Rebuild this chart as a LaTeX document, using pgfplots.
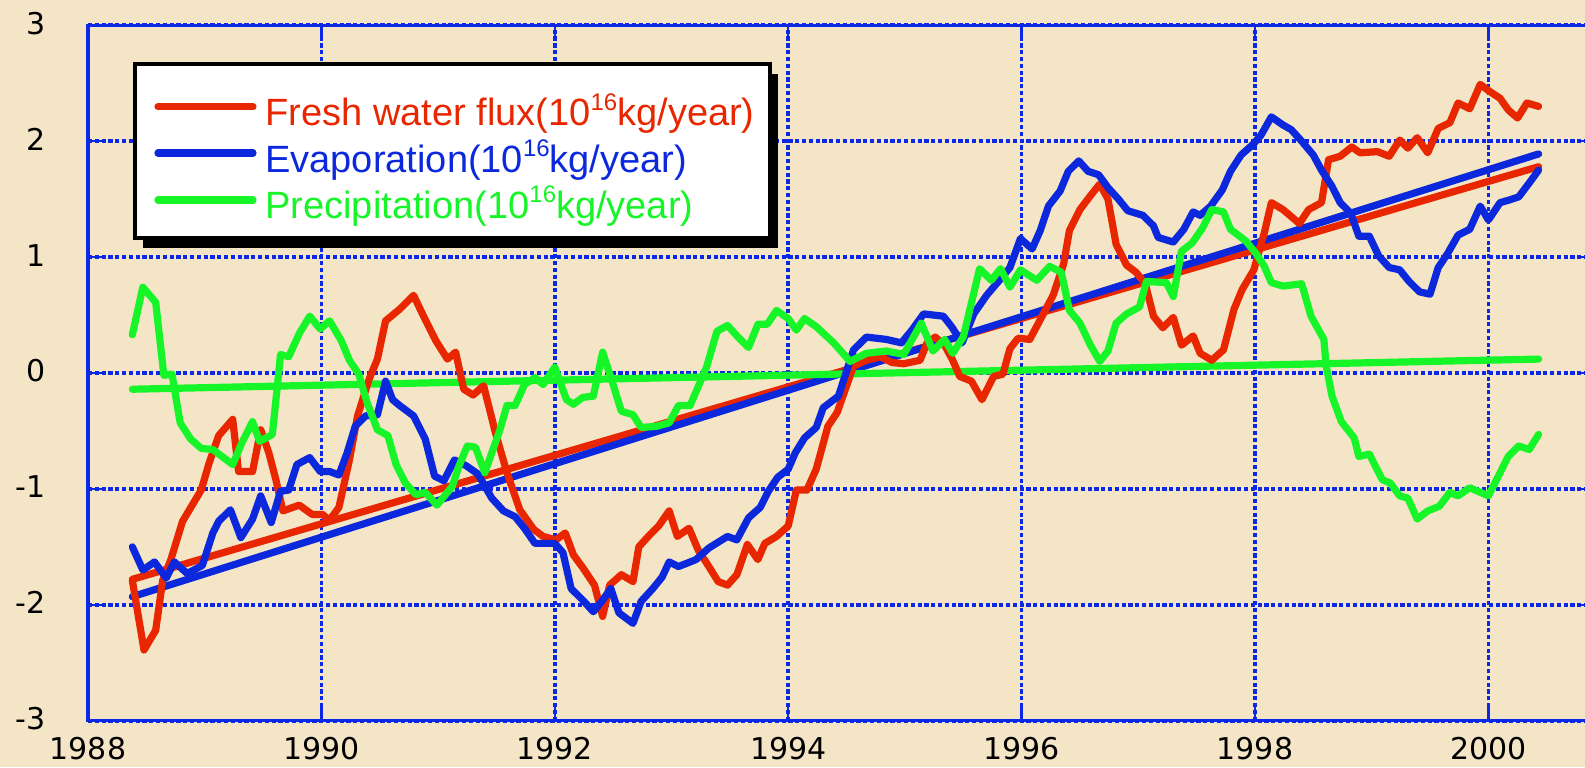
\documentclass[border=0pt]{standalone}
\usepackage{fontspec}
\setmainfont{Liberation Sans}
\newfontfamily\tickfont{DejaVu Sans}
\usepackage{pgfplots}
\pgfplotsset{compat=1.18}
\definecolor{bg}{RGB}{244,229,199}
\definecolor{cred}{RGB}{232,38,0}
\definecolor{cblue}{RGB}{12,40,220}
\definecolor{cgreen}{RGB}{22,245,40}
\definecolor{gridblue}{RGB}{10,40,230}
\newcommand\sx[1]{\raisebox{0.42em}{\fontsize{12pt}{12pt}\selectfont #1}}
\begin{document}
\begin{tikzpicture}
\fill[bg] (-44pt,-23.15pt) rectangle (748.5pt,360.35pt);
\begin{axis}[
  at={(0,0)}, anchor=south west, scale only axis,
  width=753pt, height=347.7pt,
  xmin=1988, xmax=2000.905, ymin=-3, ymax=3,
  xtick={1988,1990,1992,1994,1996,1998,2000},
  xticklabels={1988,1990,1992,1994,1996,1998,2000},
  ytick={-3,-2,-1,0,1,2,3},
  yticklabels={-3,-2,-1,0,1,2,3},
  tick align=inside, tick pos=both, major tick length=7pt,
  every tick/.style={gridblue, line width=1.2pt},
  axis line style={gridblue, line width=1.6pt},
  grid=major,
  major grid style={gridblue, line width=1.8pt, dash pattern=on 2.1pt off 1.3pt},
  tick label style={font=\tickfont\fontsize{15pt}{15pt}\selectfont, text=black},
  xticklabel style={inner sep=0pt, anchor=north, yshift=-8pt},
  yticklabel style={inner sep=0pt, anchor=east, xshift=-21pt, yshift=1pt},
]
% trend lines
\addplot[cred, line width=3.6pt, line cap=round] coordinates {(1988.38,-1.78) (2000.43,1.78)};
\addplot[cblue, line width=3.6pt, line cap=round] coordinates {(1988.38,-1.93) (2000.43,1.89)};
\addplot[cgreen, line width=3.6pt, line cap=round] coordinates {(1988.38,-0.14) (2000.43,0.12)};
% fresh water flux
\addplot[cred, line width=3.6pt, line join=round, line cap=round] coordinates {
(1988.38,-1.79) (1988.48,-2.39) (1988.58,-2.22) (1988.64,-1.79) (1988.71,-1.61)
(1988.81,-1.28) (1988.97,-1.01) (1989.04,-0.77) (1989.12,-0.54) (1989.24,-0.40)
(1989.29,-0.85) (1989.41,-0.85) (1989.48,-0.49) (1989.55,-0.69) (1989.61,-0.92)
(1989.67,-1.19) (1989.81,-1.14) (1989.92,-1.22) (1990.01,-1.22) (1990.07,-1.27)
(1990.15,-1.16) (1990.24,-0.75) (1990.31,-0.37) (1990.41,-0.05) (1990.48,0.12)
(1990.55,0.45) (1990.67,0.55) (1990.79,0.67) (1990.88,0.48) (1990.98,0.28)
(1991.08,0.12) (1991.15,0.18) (1991.22,-0.14) (1991.30,-0.19) (1991.39,-0.11)
(1991.49,-0.51) (1991.59,-0.86) (1991.70,-1.18) (1991.82,-1.35) (1991.90,-1.41)
(1992.01,-1.44) (1992.09,-1.38) (1992.16,-1.57) (1992.24,-1.68) (1992.34,-1.83)
(1992.41,-2.10) (1992.47,-1.83) (1992.57,-1.74) (1992.67,-1.80) (1992.72,-1.50)
(1992.81,-1.40) (1992.89,-1.32) (1992.98,-1.19) (1993.05,-1.41) (1993.15,-1.34)
(1993.23,-1.53) (1993.32,-1.67) (1993.40,-1.80) (1993.48,-1.83) (1993.56,-1.74)
(1993.65,-1.48) (1993.74,-1.61) (1993.80,-1.47) (1993.90,-1.41) (1994.00,-1.32)
(1994.07,-1.01) (1994.16,-1.01) (1994.24,-0.83) (1994.34,-0.46) (1994.42,-0.34)
(1994.49,-0.14) (1994.56,0.06) (1994.67,0.11) (1994.79,0.14) (1994.89,0.09)
(1994.99,0.08) (1995.13,0.11) (1995.19,0.26) (1995.26,0.31) (1995.34,0.24)
(1995.41,0.11) (1995.47,-0.03) (1995.57,-0.07) (1995.66,-0.23) (1995.76,-0.03)
(1995.84,-0.01) (1995.90,0.21) (1995.97,0.30) (1996.07,0.29) (1996.16,0.46)
(1996.27,0.67) (1996.36,0.94) (1996.41,1.23) (1996.50,1.41) (1996.59,1.53)
(1996.67,1.63) (1996.74,1.50) (1996.81,1.11) (1996.90,0.93) (1996.98,0.87)
(1997.06,0.77) (1997.13,0.49) (1997.21,0.39) (1997.30,0.48) (1997.37,0.24)
(1997.47,0.32) (1997.53,0.17) (1997.63,0.11) (1997.73,0.20) (1997.82,0.55)
(1997.89,0.72) (1997.99,0.89) (1998.08,1.21) (1998.14,1.47) (1998.24,1.41)
(1998.38,1.29) (1998.46,1.41) (1998.57,1.47) (1998.63,1.84) (1998.73,1.87)
(1998.83,1.95) (1998.90,1.90) (1999.05,1.91) (1999.15,1.87) (1999.24,2.01)
(1999.31,1.94) (1999.39,2.03) (1999.48,1.90) (1999.57,2.11) (1999.67,2.16)
(1999.74,2.33) (1999.84,2.28) (1999.93,2.49) (2000.01,2.43) (2000.10,2.37)
(2000.17,2.27) (2000.25,2.20) (2000.33,2.33) (2000.43,2.30)};
% evaporation
\addplot[cblue, line width=3.6pt, line join=round, line cap=round] coordinates {
(1988.38,-1.50) (1988.47,-1.70) (1988.57,-1.63) (1988.67,-1.77) (1988.74,-1.63)
(1988.85,-1.73) (1988.98,-1.66) (1989.07,-1.38) (1989.12,-1.28) (1989.22,-1.18)
(1989.31,-1.42) (1989.41,-1.26) (1989.48,-1.06) (1989.57,-1.29) (1989.65,-1.02)
(1989.72,-1.01) (1989.79,-0.79) (1989.90,-0.73) (1989.99,-0.85) (1990.07,-0.85)
(1990.15,-0.88) (1990.22,-0.69) (1990.29,-0.46) (1990.38,-0.37) (1990.48,-0.36)
(1990.55,-0.07) (1990.61,-0.23) (1990.67,-0.28) (1990.79,-0.37) (1990.89,-0.57)
(1990.97,-0.89) (1991.05,-0.93) (1991.14,-0.75) (1991.24,-0.80) (1991.34,-0.87)
(1991.46,-1.08) (1991.56,-1.19) (1991.66,-1.24) (1991.74,-1.34) (1991.83,-1.47)
(1992.00,-1.47) (1992.07,-1.55) (1992.14,-1.86) (1992.24,-1.96) (1992.33,-2.06)
(1992.41,-1.96) (1992.48,-1.86) (1992.55,-2.07) (1992.67,-2.16) (1992.74,-1.97)
(1992.84,-1.86) (1992.92,-1.76) (1992.98,-1.63) (1993.06,-1.67) (1993.21,-1.61)
(1993.32,-1.51) (1993.48,-1.41) (1993.56,-1.44) (1993.66,-1.25) (1993.76,-1.16)
(1993.83,-1.02) (1993.91,-0.90) (1994.00,-0.83) (1994.06,-0.69) (1994.14,-0.56)
(1994.24,-0.47) (1994.30,-0.30) (1994.43,-0.20) (1994.56,0.20) (1994.67,0.31)
(1994.84,0.29) (1994.97,0.26) (1995.06,0.37) (1995.16,0.51) (1995.33,0.49)
(1995.40,0.40) (1995.49,0.26) (1995.59,0.51) (1995.70,0.67) (1995.81,0.80)
(1995.90,0.91) (1995.99,1.16) (1996.09,1.07) (1996.16,1.23) (1996.23,1.44)
(1996.33,1.57) (1996.40,1.74) (1996.49,1.83) (1996.57,1.74) (1996.66,1.71)
(1996.74,1.60) (1996.83,1.50) (1996.91,1.40) (1997.04,1.36) (1997.13,1.27)
(1997.17,1.17) (1997.30,1.13) (1997.39,1.24) (1997.47,1.39) (1997.53,1.36)
(1997.62,1.44) (1997.72,1.58) (1997.79,1.74) (1997.88,1.88) (1997.98,1.97)
(1998.05,2.05) (1998.14,2.21) (1998.24,2.14) (1998.31,2.10) (1998.40,2.00)
(1998.50,1.88) (1998.57,1.75) (1998.66,1.61) (1998.73,1.47) (1998.82,1.38)
(1998.89,1.18) (1998.98,1.18) (1999.06,1.01) (1999.15,0.91) (1999.24,0.89)
(1999.32,0.79) (1999.41,0.70) (1999.50,0.68) (1999.57,0.91) (1999.65,1.03)
(1999.74,1.19) (1999.84,1.24) (1999.93,1.44) (2000.00,1.32) (2000.10,1.47)
(2000.17,1.49) (2000.26,1.52) (2000.35,1.64) (2000.43,1.75)};
% precipitation
\addplot[cgreen, line width=3.6pt, line join=round, line cap=round] coordinates {
(1988.38,0.33) (1988.47,0.74) (1988.58,0.61) (1988.65,-0.02) (1988.72,-0.01)
(1988.79,-0.43) (1988.88,-0.57) (1988.97,-0.65) (1989.07,-0.66) (1989.24,-0.79)
(1989.32,-0.60) (1989.41,-0.42) (1989.47,-0.59) (1989.58,-0.53) (1989.65,0.16)
(1989.72,0.14) (1989.81,0.34) (1989.90,0.49) (1989.99,0.38) (1990.07,0.45)
(1990.17,0.28) (1990.24,0.11) (1990.32,-0.01) (1990.39,-0.25) (1990.48,-0.49)
(1990.57,-0.54) (1990.64,-0.79) (1990.72,-0.95) (1990.81,-1.05) (1990.89,-1.03)
(1990.99,-1.14) (1991.12,-0.98) (1991.18,-0.80) (1991.25,-0.63) (1991.32,-0.64)
(1991.40,-0.86) (1991.53,-0.49) (1991.59,-0.28) (1991.66,-0.28) (1991.74,-0.10)
(1991.83,-0.04) (1991.90,-0.10) (1992.00,0.05) (1992.10,-0.23) (1992.16,-0.27)
(1992.24,-0.21) (1992.33,-0.20) (1992.41,0.18) (1992.50,-0.10) (1992.57,-0.33)
(1992.67,-0.36) (1992.74,-0.47) (1992.87,-0.46) (1992.98,-0.43) (1993.06,-0.28)
(1993.16,-0.28) (1993.30,0.05) (1993.39,0.36) (1993.48,0.41) (1993.57,0.31)
(1993.66,0.22) (1993.74,0.42) (1993.82,0.42) (1993.90,0.54) (1994.00,0.47)
(1994.07,0.37) (1994.14,0.47) (1994.24,0.40) (1994.39,0.26) (1994.53,0.10)
(1994.67,0.17) (1994.84,0.19) (1994.99,0.16) (1995.14,0.43) (1995.24,0.19)
(1995.34,0.29) (1995.41,0.17) (1995.50,0.31) (1995.64,0.90) (1995.74,0.80)
(1995.82,0.90) (1995.90,0.74) (1995.99,0.89) (1996.13,0.80) (1996.24,0.92)
(1996.34,0.87) (1996.41,0.54) (1996.50,0.43) (1996.59,0.24) (1996.67,0.10)
(1996.74,0.19) (1996.81,0.43) (1996.90,0.51) (1997.01,0.57) (1997.07,0.79)
(1997.24,0.78) (1997.30,0.66) (1997.37,1.05) (1997.46,1.12) (1997.55,1.25)
(1997.63,1.41) (1997.73,1.39) (1997.79,1.24) (1997.92,1.14) (1998.01,1.03)
(1998.08,0.92) (1998.14,0.78) (1998.24,0.75) (1998.40,0.77) (1998.48,0.49)
(1998.59,0.29) (1998.61,0.06) (1998.66,-0.20) (1998.74,-0.42) (1998.85,-0.56)
(1998.89,-0.72) (1998.98,-0.70) (1999.09,-0.92) (1999.16,-0.95) (1999.24,-1.06)
(1999.31,-1.08) (1999.39,-1.26) (1999.48,-1.19) (1999.58,-1.15) (1999.67,-1.03)
(1999.74,-1.06) (1999.84,-0.99) (2000.00,-1.06) (2000.09,-0.88) (2000.17,-0.72)
(2000.26,-0.63) (2000.35,-0.66) (2000.43,-0.53)};
% legend box with shadow
\fill[black] (rel axis cs:0.03652,0.9300) rectangle (rel axis cs:0.45817,0.67975);
\filldraw[fill=white, draw=black, line width=1.6pt] (rel axis cs:0.03121,0.9443) rectangle (rel axis cs:0.45286,0.69413);
\draw[cred, line width=3.6pt, line cap=round] (rel axis cs:0.04648,0.88291) -- (rel axis cs:0.10956,0.88291);
\draw[cblue, line width=3.6pt, line cap=round] (rel axis cs:0.04648,0.81633) -- (rel axis cs:0.10956,0.81633);
\draw[cgreen, line width=3.6pt, line cap=round] (rel axis cs:0.04648,0.74871) -- (rel axis cs:0.10956,0.74871);
\node[anchor=base west, inner sep=0pt, text=cred, font=\fontsize{19pt}{19pt}\selectfont] at (rel axis cs:0.11753,0.85519) {Fresh water flux(10\sx{16}kg/year)};
\node[anchor=base west, inner sep=0pt, text=cblue, font=\fontsize{19pt}{19pt}\selectfont] at (rel axis cs:0.11753,0.78832) {Evaporation(10\sx{16}kg/year)};
\node[anchor=base west, inner sep=0pt, text=cgreen, font=\fontsize{19pt}{19pt}\selectfont] at (rel axis cs:0.11753,0.72217) {Precipitation(10\sx{16}kg/year)};
\end{axis}
\pgfresetboundingbox
\path[use as bounding box] (-44pt,-23.15pt) rectangle (748.5pt,360.35pt);
\end{tikzpicture}
\end{document}
